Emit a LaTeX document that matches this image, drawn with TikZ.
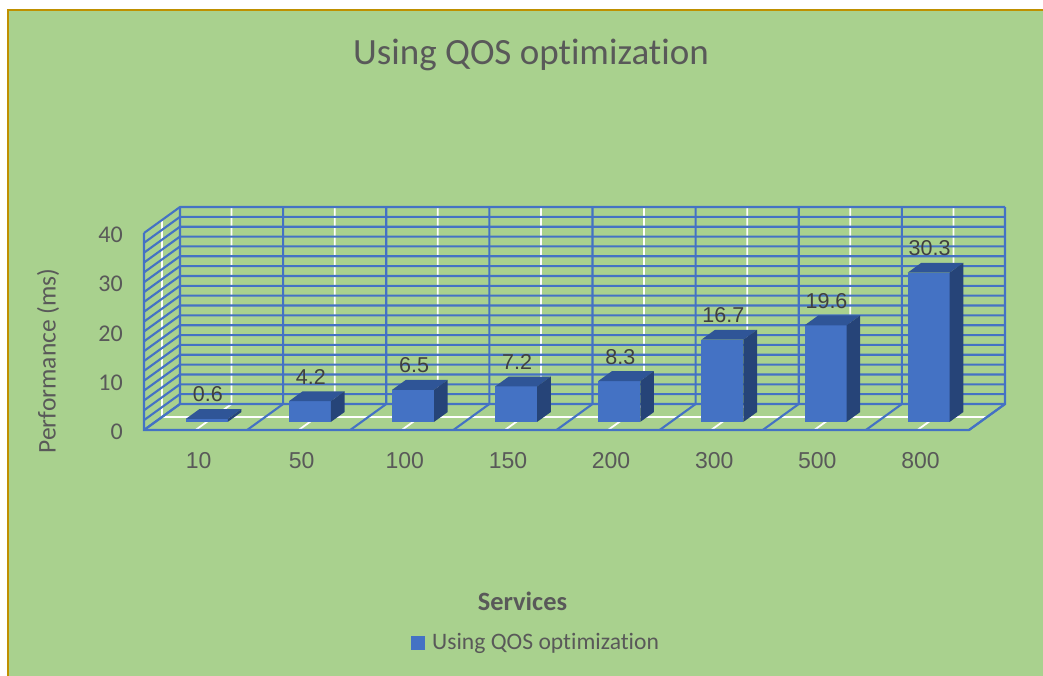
\documentclass[tikz,border=0pt]{standalone}
\usepackage{fontspec}
\setmainfont{Carlito}[Ligatures=NoCommon]
\newfontfamily\arialf{Liberation Sans}
\definecolor{bg}{HTML}{A9D18E}
\definecolor{gold}{HTML}{BF9000}
\definecolor{gridblue}{HTML}{4472C4}
\definecolor{barfront}{HTML}{4472C4}
\definecolor{bartop}{HTML}{2F5597}
\definecolor{barside}{HTML}{264478}
\definecolor{txt}{HTML}{595959}
\definecolor{lbl}{HTML}{404040}
\tikzset{
  gridline/.style={gridblue, line width=2.1pt},
  whiteline/.style={white, line width=1.8pt},
  ticklbl/.style={text=txt, inner sep=0pt, anchor=east, font=\fontsize{24}{28}\selectfont},
  catlbl/.style={text=txt, inner sep=0pt, font=\arialf\fontsize{23}{26}\selectfont},
  datalbl/.style={text=lbl, inner sep=0pt, font=\arialf\fontsize{21.5}{25}\selectfont},
}
\begin{document}
\begin{tikzpicture}[x=1pt,y=-1pt]
\useasboundingbox (0,0) rectangle (1043,675);
\clip (0,0) rectangle (1043,675);
\fill[white] (0,0) rectangle (1043,675);
\fill[bg] (8.3,10) rectangle (1060,690);
\draw[gold, line width=2pt] (8.3,690) -- (8.3,10) -- (1060,10);

% title
\node[text=txt, inner sep=0pt, font=\fontsize{37}{42}\selectfont] (title) at (531,55) {Using QOS optimization};

% white grid lines
\draw[whiteline] (162,220) -- (162,417) -- (987,417);
\foreach \k in {0,...,7}{
  \draw[whiteline] ({180+(\k+0.5)*103.125},207) -- ({180+(\k+0.5)*103.125},404) -- ({144+(\k+0.5)*103.125},430);
}

% blue grid: side wall and back wall horizontals
\foreach \v in {0,2,...,40}{
  \draw[gridline] (144,{430-4.925*\v}) -- (180,{404-4.925*\v}) -- (1005,{404-4.925*\v});
}
% side wall front edge and floor outline
\draw[gridline] (144,233) -- (144,430) -- (969,430) -- (1005,404);
% back wall verticals and floor diagonals
\foreach \k in {0,...,8}{
  \draw[gridline] ({180+\k*103.125},207) -- ({180+\k*103.125},404) -- ({144+\k*103.125},430);
}

% bars
\foreach \v/\c [count=\i from 0] in {0.6/10,4.2/50,6.5/100,7.2/150,8.3/200,16.7/300,19.6/500,30.3/800}{
  \pgfmathsetmacro\cx{144+(\i+0.5)*103.125+11.2}
  \pgfmathsetmacro\h{4.925*\v}
  \fill[barfront] ({\cx-21},421.9) rectangle ({\cx+21},{421.9-\h});
  \fill[bartop] ({\cx-21},{421.9-\h}) -- ++(13.7,-9.9) -- ++(42,0) -- ++(-13.7,9.9) -- cycle;
  \fill[barside] ({\cx+21},421.9) -- ++(13.7,-9.9) -- ++(0,-\h) -- ++(-13.7,9.9) -- cycle;
  \node[datalbl] (d\i) at ({\cx+1},{421.9-\h-9.9-14.5}) {\v};
  \node[catlbl] (c\i) at ({144+(\i+0.5)*103.125+3},461) {\c};
}

% value axis labels
\foreach \t in {0,10,20,30,40}{
  \node[ticklbl] (t\t) at (123,{432-4.925*\t}) {\t};
}

% axis titles
\node[text=txt, inner sep=0pt, rotate=90, font=\fontsize{25.5}{30}\selectfont] (ytitle) at (48,361) {Performance (ms)};
\node[text=txt, inner sep=0pt, font=\bfseries\fontsize{26.4}{30}\selectfont] (xtitle) at (522.5,601) {Services};

% legend
\fill[barfront] (411,636) rectangle (425,650);
\coordinate (legsq) at (425,643);
\node[text=txt, inner sep=0pt, anchor=west, font=\fontsize{23.6}{28}\selectfont] (legend) at (432,643) {Using QOS optimization};
\end{tikzpicture}
\end{document}
